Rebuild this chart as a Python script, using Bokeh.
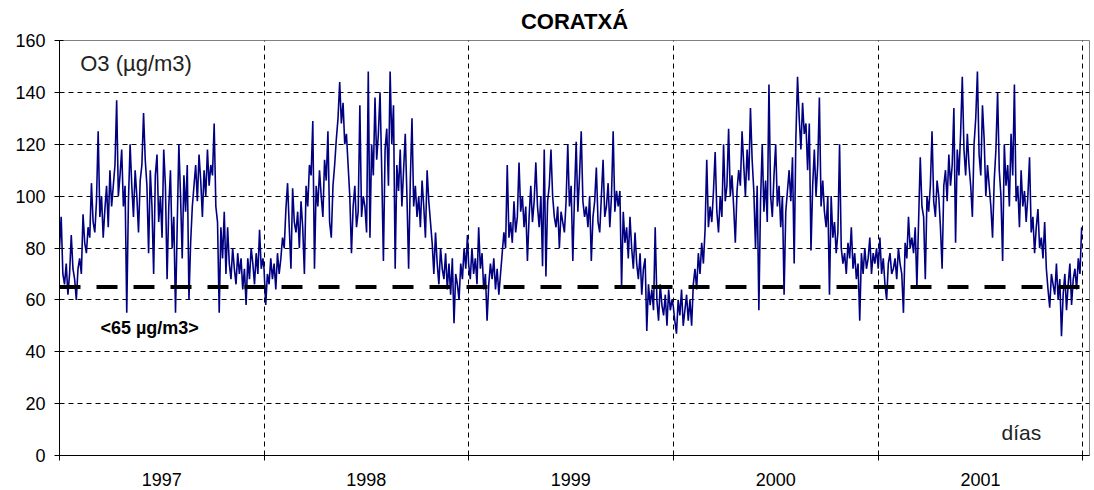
from bokeh.plotting import figure
from bokeh.models import FixedTicker, Span, Label, Range1d
from bokeh.embed import file_html
from bokeh.resources import INLINE

# ---- data (one value every 3 days) ----
years = ["1997", "1998", "1999", "2000", "2001"]
year_start_days = [0, 365, 730, 1095, 1461]
year_end_day = 1826
step_days = 3

o3_1997 = [80, 92, 70, 66, 74, 62, 70, 85, 72, 68,
           60, 72, 76, 70, 93, 82, 78, 88, 84, 105,
           90, 86, 98, 125, 92, 100, 84, 95, 104, 88,
           110, 96, 104, 112, 137, 100, 108, 118, 96, 104,
           55, 98, 120, 104, 92, 110, 100, 86, 106, 112,
           132, 114, 104, 78, 110, 96, 70, 108, 116, 90,
           100, 84, 118, 104, 68, 96, 110, 80, 92, 55,
           88, 120, 100, 76, 108, 94, 112, 60, 82, 96,
           104, 112, 98, 116, 106, 92, 110, 100, 118, 104,
           112, 108, 128, 96, 90, 55, 88, 76, 94, 70,
           88, 74, 68, 80, 72, 66, 78, 70, 76, 64,
           72, 58, 76, 68, 80, 74, 66, 78, 70, 87, 72, 76]
o3_1998 = [72, 58, 70, 66, 76, 68, 74, 64, 78, 70,
           76, 84, 80, 95, 105, 88, 72, 103, 90, 86,
           94, 80, 98, 88, 70, 104, 96, 112, 108, 129,
           72, 104, 96, 110, 100, 92, 114, 106, 125, 90,
           84, 104, 112, 122, 130, 144, 128, 136, 120, 124,
           112, 100, 78, 96, 104, 88, 94, 135, 92, 100,
           96, 86, 148, 84, 120, 108, 138, 114, 124, 140,
           110, 75, 118, 126, 104, 148, 120, 135, 72, 112,
           102, 118, 96, 110, 124, 100, 72, 106, 130, 96,
           104, 92, 100, 88, 106, 96, 84, 110, 98, 90,
           82, 70, 86, 74, 66, 80, 72, 68, 78, 64,
           74, 62, 76, 51, 70, 66, 60, 74, 68, 80, 72, 85]
o3_1999 = [74, 68, 80, 70, 76, 66, 88, 72, 78, 64,
           70, 52, 66, 74, 68, 76, 64, 72, 62, 70,
           78, 86, 80, 112, 84, 90, 82, 98, 86, 92,
           113, 94, 100, 88, 96, 75, 92, 104, 90, 98,
           113, 96, 88, 100, 73, 118, 69, 98, 104, 118,
           100, 92, 88, 96, 80, 94, 90, 86, 98, 120,
           96, 104, 75, 100, 121, 94, 108, 125, 98, 92,
           96, 88, 100, 75, 92, 98, 111, 90, 86, 100,
           114, 92, 96, 105, 88, 100, 125, 94, 102, 96,
           102, 65, 94, 82, 88, 76, 92, 80, 72, 86,
           74, 68, 78, 62, 72, 76, 48, 66, 58, 64,
           56, 88, 60, 52, 66, 58, 54, 62, 50, 64, 56, 60]
o3_2000 = [58, 52, 47, 60, 54, 64, 50, 56, 62, 52,
           60, 50, 66, 72, 64, 78, 70, 82, 74, 87,
           114, 88, 96, 90, 102, 117, 94, 86, 100, 92,
           120, 98, 104, 126, 100, 108, 96, 82, 102, 110,
           104, 125, 112, 100, 118, 106, 134, 114, 102, 80,
           104, 56, 98, 120, 94, 106, 90, 143, 100, 92,
           108, 120, 96, 104, 88, 100, 62, 94, 102, 110,
           98, 115, 74, 122, 146, 130, 118, 136, 124, 128,
           110, 128, 79, 104, 118, 100, 112, 138, 96, 106,
           94, 88, 100, 62, 100, 84, 90, 78, 86, 120,
           80, 74, 78, 70, 82, 76, 88, 72, 78, 68,
           74, 52, 78, 70, 80, 72, 76, 84, 70, 78, 74, 80]
o3_2001 = [72, 84, 70, 76, 66, 60, 74, 78, 70, 72,
           76, 68, 80, 74, 70, 55, 82, 76, 92, 80,
           84, 78, 88, 65, 90, 115, 96, 92, 68, 100,
           94, 104, 125, 98, 92, 106, 100, 88, 72, 104,
           110, 98, 116, 104, 112, 134, 82, 118, 108, 124,
           146, 118, 108, 124, 112, 104, 92, 120, 130, 148,
           116, 108, 135, 122, 100, 112, 104, 96, 84, 106,
           118, 140, 110, 100, 75, 120, 104, 112, 96, 124,
           108, 143, 98, 104, 88, 110, 96, 102, 90, 100,
           115, 86, 92, 78, 88, 95, 80, 84, 76, 90,
           72, 64, 57, 70, 66, 62, 74, 60, 68, 46,
           62, 70, 56, 66, 74, 58, 68, 72, 64, 76, 70, 88]

threshold = 65
y_ticks = [0, 20, 40, 60, 80, 100, 120, 140, 160]

series = [o3_1997, o3_1998, o3_1999, o3_2000, o3_2001]
xs, ys = [], []
for start, vals in zip(year_start_days, series):
    for i, v in enumerate(vals):
        xs.append(start + i * step_days)
        ys.append(v)

year_bounds = year_start_days + [year_end_day]
year_mids = [(a + b) / 2 for a, b in zip(year_bounds[:-1], year_bounds[1:])]

FONT = "Liberation Sans"

p = figure(width=1092, height=488, output_backend="svg", toolbar_location=None,
           x_range=Range1d(0, 1838), y_range=Range1d(0, 160),
           min_border_left=59, min_border_right=3, min_border_top=39,
           min_border_bottom=32, title="CORATXÁ")

p.title.align = "center"
p.title.text_font = FONT
p.title.text_font_size = "22px"
p.title.text_font_style = "bold"
p.title.text_color = "#000000"
p.title.standoff = 13

p.outline_line_color = "#808080"
p.outline_line_width = 1
p.background_fill_color = "white"
p.border_fill_color = "white"

# y axis
p.yaxis.ticker = FixedTicker(ticks=y_ticks)
p.yaxis.axis_line_color = "black"
p.yaxis.major_tick_line_color = "black"
p.yaxis.major_tick_in = 4
p.yaxis.major_tick_out = 5
p.yaxis.minor_tick_line_color = None
p.yaxis.major_label_standoff = 9
p.yaxis.major_label_text_font = FONT
p.yaxis.major_label_text_font_size = "18px"
p.yaxis.major_label_text_color = "#000000"

# x axis: year labels centred, tick marks at year boundaries
p.xaxis.ticker = FixedTicker(ticks=year_mids, minor_ticks=year_bounds)
p.xaxis.major_label_overrides = {m: y for m, y in zip(year_mids, years)}
p.xaxis.axis_line_color = "black"
p.xaxis.major_tick_line_color = None
p.xaxis.major_tick_in = 0
p.xaxis.major_tick_out = 0
p.xaxis.minor_tick_line_color = "black"
p.xaxis.minor_tick_in = 2
p.xaxis.minor_tick_out = 5
p.xaxis.major_label_standoff = 12
p.xaxis.major_label_text_font = FONT
p.xaxis.major_label_text_font_size = "18px"
p.xaxis.major_label_text_color = "#000000"

# grids
p.xgrid.ticker = FixedTicker(ticks=year_bounds[1:])
p.ygrid.ticker = FixedTicker(ticks=y_ticks[1:-1])
for g in (p.xgrid, p.ygrid):
    g.grid_line_color = "#000000"
    g.grid_line_dash = "5 4"
    g.grid_line_width = 1

# data line
p.line(xs, ys, line_color="#000080", line_width=1.6)

# threshold
p.add_layout(Span(location=threshold, dimension="width", line_color="black",
                  line_width=4, line_dash="21 16"))

p.add_layout(Label(x=37, y=151, text="O3 (µg/m3)", text_font=FONT,
                   text_font_size="22px", text_color="#222222",
                   text_baseline="middle"))
p.add_layout(Label(x=73, y=49, text="<65 µg/m3>", text_font=FONT,
                   text_font_size="18px", text_font_style="bold",
                   text_color="#000000", text_baseline="middle"))
p.add_layout(Label(x=1681, y=9, text="días", text_font=FONT,
                   text_font_size="21px", text_color="#222222",
                   text_baseline="middle"))

open("out.html", "w").write(file_html(p, INLINE))
